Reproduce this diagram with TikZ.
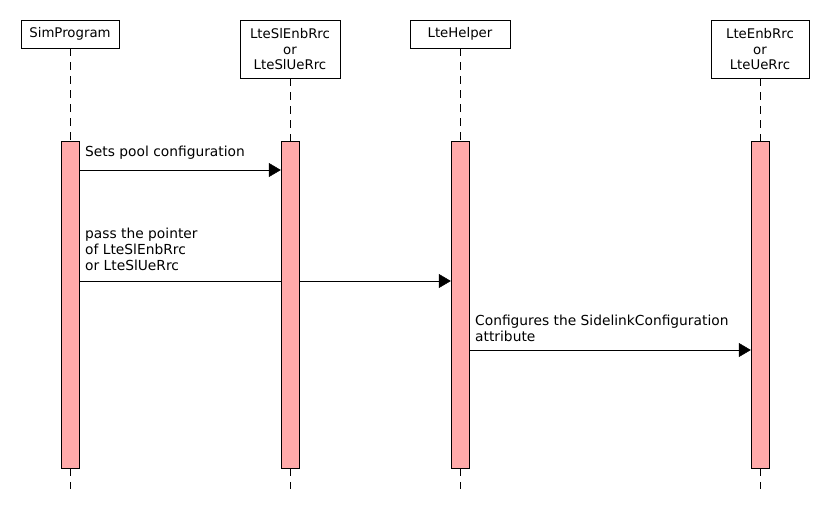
\documentclass[tikz,border=0pt]{standalone}
\usepackage{fontspec}
\setmainfont{DejaVu Sans}
\usetikzlibrary{arrows.meta,backgrounds,positioning}
\definecolor{barpink}{RGB}{255,170,170}

\begin{document}
\begin{tikzpicture}[x=1pt,y=-1pt,font=\fontsize{13.3}{15.5}\selectfont]
\tikzstyle{head}=[draw=black,fill=white,align=center,inner sep=0pt,minimum width=98pt,minimum height=28pt,anchor=north]
\tikzstyle{bar}=[draw=black,fill=barpink,inner sep=0pt,minimum width=18pt,minimum height=327pt,anchor=north]
\tikzstyle{life}=[dash pattern=on 8pt off 6pt]
\tikzstyle{msg}=[-{Triangle[length=12pt,width=14pt]}]
\tikzstyle{note}=[align=left,anchor=south west,inner sep=0pt,font=\fontsize{13.8}{16}\selectfont]

\useasboundingbox (0,0) rectangle (830,530);

% participants
\node[head] (sim) at (70,20) {SimProgram};
\node[head, minimum width=100pt, minimum height=58pt] (slrrc) at (290,20) {LteSlEnbRrc\\or\\LteSlUeRrc};
\node[head, minimum width=100pt] (helper) at (460,20) {LteHelper};
\node[head, minimum height=58pt] (rrc) at (760,20) {LteEnbRrc\\or\\LteUeRrc};

% activations
\node[bar] (simbar) at (70,141) {};
\node[bar] (slbar) at (290,141) {};
\node[bar] (helperbar) at (460,141) {};
\node[bar] (rrcbar) at (760,141) {};

\begin{pgfonlayer}{background}
\draw[life] (sim.south) -- (simbar.north);
\draw[life] (slrrc.south) -- (slbar.north);
\draw[life] (helper.south) -- (helperbar.north);
\draw[life] (rrc.south) -- (rrcbar.north);
\draw[life] (simbar.south) -- +(0,21);
\draw[life] (slbar.south) -- +(0,21);
\draw[life] (helperbar.south) -- +(0,21);
\draw[life] (rrcbar.south) -- +(0,21);
\draw[msg] (simbar.east |- 0,281) -- (helperbar.west |- 0,281);
\end{pgfonlayer}

% messages
\draw[msg] (simbar.east |- 0,170) -- (slbar.west |- 0,170);
\draw[msg] (helperbar.east |- 0,350) -- (rrcbar.west |- 0,350);

\node[note] (m1) at (85,160) {Sets pool configuration};
\node[note] (m2) at (85,271) {pass the pointer\\of LteSlEnbRrc\\or LteSlUeRrc};
\node[note] (m3) at (475,342) {Configures the SidelinkConfiguration\\attribute};
\end{tikzpicture}
\end{document}
